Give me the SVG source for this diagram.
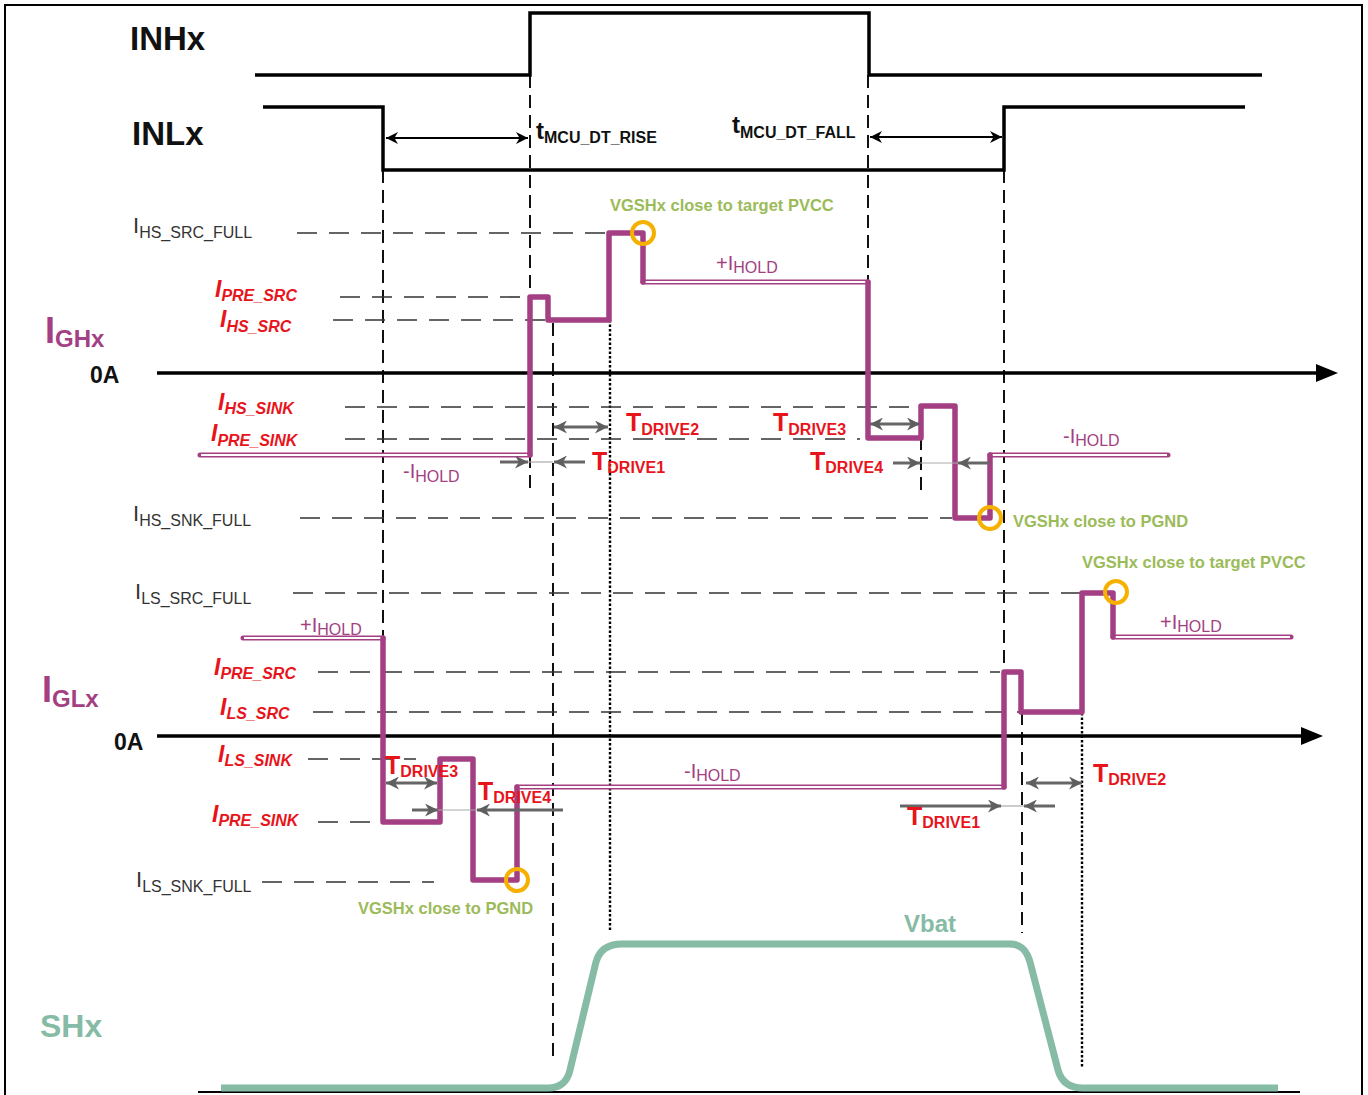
<svg xmlns="http://www.w3.org/2000/svg" width="1368" height="1095" viewBox="0 0 1368 1095">
<defs>
<style>
text{font-family:"Liberation Sans",Arial,sans-serif}
.big{font-size:33px;font-weight:bold;fill:#111}
.oa{font-size:23px;font-weight:bold;fill:#111}
.gl{font-size:22px;fill:#333}
.gls{font-size:16px}
.rl{font-size:23px;font-weight:bold;font-style:italic;fill:#e8141b}
.rls{font-size:16px}
.td{font-size:25px;font-weight:bold;fill:#e8141b}
.tds{font-size:16px}
.pl{font-size:20px;fill:#a33f82}
.pls{font-size:16px}
.gr{font-size:16.5px;font-weight:bold;fill:#9bbb59}
.tm{font-size:24px;font-weight:bold;fill:#111}
.tms{font-size:16px}
.sig{fill:none;stroke:#000;stroke-width:3.5}
.hd{fill:none;stroke:#333;stroke-width:1.6;stroke-dasharray:20 12}
.vd{fill:none;stroke:#111;stroke-width:2;stroke-dasharray:13 7}
.dot{fill:none;stroke:#000;stroke-width:2.4;stroke-dasharray:2.5 2}
.thick{fill:none;stroke:#a33f82;stroke-width:5.5;stroke-linejoin:round;stroke-linecap:round}
.hold{fill:none;stroke:#a33f82;stroke-width:5;stroke-linecap:round}
.holdin{fill:none;stroke:#fff;stroke-width:1.8}
.ring{fill:none;stroke:#f5b000;stroke-width:4}
.garr{fill:none;stroke:#666;stroke-width:3}
.thin{fill:none;stroke:#aaa;stroke-width:1.2}
.barr{fill:none;stroke:#000;stroke-width:2.2}
</style>
<marker id="ab" viewBox="0 0 10 10" refX="10" refY="5" markerWidth="14" markerHeight="12" markerUnits="userSpaceOnUse" orient="auto-start-reverse"><path d="M0,0 L10,5 L0,10 L3,5 z" fill="#000"/></marker>
<marker id="ag" viewBox="0 0 10 10" refX="10" refY="5" markerWidth="15" markerHeight="13" markerUnits="userSpaceOnUse" orient="auto-start-reverse"><path d="M0,0 L10,5 L0,10 L3,5 z" fill="#5f5f5f"/></marker>
</defs>

<rect id="frame" x="5" y="5" width="1357" height="1100" fill="#fff" stroke="#000" stroke-width="2"/>
<line x1="198" y1="1092" x2="1300" y2="1092" stroke="#000" stroke-width="2"/>

<g id="guides">
<path class="vd" d="M383,170 V640"/>
<path class="vd" d="M530,75 V492"/>
<path class="vd" d="M553,323 V1062"/>
<path class="dot" d="M610,320 V930"/>
<path class="vd" d="M868,75 V282"/>
<path class="vd" d="M921,437 V490"/>
<path class="vd" d="M1004,170 V670"/>
<path class="vd" d="M1022,692 V933"/>
<path class="dot" d="M1082,713 V1067"/>
<path class="hd" d="M297,233 H605"/>
<path class="hd" d="M340,297 H528"/>
<path class="hd" d="M333,320 H550"/>
<path class="hd" d="M345,407 H920"/>
<path class="hd" d="M345,439 H860"/>
<path class="hd" d="M300,518 H952"/>
<path class="hd" d="M293,593 H1080"/>
<path class="hd" d="M318,672 H1000"/>
<path class="hd" d="M313,712 H1022"/>
<path class="hd" d="M308,759 H416"/>
<path class="hd" d="M318,822 H371"/>
<path class="hd" d="M262,882 H434"/>
</g>

<g id="INHx">
<text class="big" x="130" y="50">INHx</text>
<path class="sig" d="M255,75 H530 V13 H869 V75 H1262"/>
</g>
<g id="INLx">
<text class="big" x="132" y="145">INLx</text>
<path class="sig" d="M263,107 H383 V170 H1004 V107 H1245"/>
</g>

<g id="tmcu">
<path class="barr" d="M386,138 H528" marker-start="url(#ab)" marker-end="url(#ab)"/>
<text class="tm" x="536" y="139">t<tspan class="tms" dy="4">MCU_DT_RISE</tspan></text>
<path class="barr" d="M870,137 H1002" marker-start="url(#ab)" marker-end="url(#ab)"/>
<text class="tm" x="732" y="133">t<tspan class="tms" dy="5">MCU_DT_FALL</tspan></text>
</g>

<g id="axes">
<path d="M157,373 H1318" stroke="#000" stroke-width="3.5"/>
<polygon points="1316,364 1338,373 1316,382" fill="#000"/>
<path d="M157,736 H1303" stroke="#000" stroke-width="3.5"/>
<polygon points="1301,727 1323,736 1301,745" fill="#000"/>
</g>

<g id="labels">
<text x="45" y="343" style="font-size:36px;font-weight:bold;fill:#a33f82">I<tspan dy="4" style="font-size:24px">GHx</tspan></text>
<text class="oa" x="90" y="383">0A</text>
<text x="42" y="702" style="font-size:36px;font-weight:bold;fill:#a33f82">I<tspan dy="5" style="font-size:24px">GLx</tspan></text>
<text class="oa" x="114" y="750">0A</text>
<text x="40" y="1037" style="font-size:32px;font-weight:bold;fill:#86bba5">SHx</text>

<text class="gl" x="133" y="233">I<tspan class="gls" dy="5">HS_SRC_FULL</tspan></text>
<text class="gl" x="133" y="521">I<tspan class="gls" dy="5">HS_SNK_FULL</tspan></text>
<text class="gl" x="135" y="599">I<tspan class="gls" dy="5">LS_SRC_FULL</tspan></text>
<text class="gl" x="136" y="887">I<tspan class="gls" dy="5">LS_SNK_FULL</tspan></text>

<text class="rl" x="215" y="297">I<tspan class="rls" dy="4">PRE_SRC</tspan></text>
<text class="rl" x="220" y="327">I<tspan class="rls" dy="5">HS_SRC</tspan></text>
<text class="rl" x="218" y="410">I<tspan class="rls" dy="4">HS_SINK</tspan></text>
<text class="rl" x="211" y="441">I<tspan class="rls" dy="5">PRE_SINK</tspan></text>
<text class="rl" x="214" y="675">I<tspan class="rls" dy="4">PRE_SRC</tspan></text>
<text class="rl" x="220" y="715">I<tspan class="rls" dy="4">LS_SRC</tspan></text>
<text class="rl" x="218" y="762">I<tspan class="rls" dy="4">LS_SINK</tspan></text>
<text class="rl" x="212" y="822">I<tspan class="rls" dy="4">PRE_SINK</tspan></text>
</g>

<g id="IGHx">
<path class="hold" d="M200,455 H530 M643,282 H868 M990,455 H1168"/>
<path class="holdin" d="M201,455 H528 M645,282 H866 M992,455 H1167"/>
<path class="thick" d="M530,455 V297 H548 V320 H609 V233 H643 V282"/>
<path class="thick" d="M868,282 V438 H921 V406 H955 V518 H990 V455"/>
<circle class="ring" cx="643" cy="233" r="11"/>
<circle class="ring" cx="990" cy="518" r="11"/>
<text class="gr" x="610" y="211">VGSHx close to target PVCC</text>
<text class="gr" x="1013" y="527">VGSHx close to PGND</text>
<text class="pl" x="716" y="270">+I<tspan class="pls" dy="3">HOLD</tspan></text>
<text class="pl" x="403" y="478">-I<tspan class="pls" dy="4">HOLD</tspan></text>
<text class="pl" x="1063" y="443">-I<tspan class="pls" dy="3">HOLD</tspan></text>
</g>

<g id="IGLx">
<path class="hold" d="M243,638 H383 M517,787 H1004 M1113,637 H1291"/>
<path class="holdin" d="M244,638 H381 M519,787 H1002 M1115,637 H1290"/>
<path class="thick" d="M383,638 V822 H440 V759 H473 V880 H517 V787"/>
<path class="thick" d="M1004,787 V672 H1021 V712 H1082 V593 H1113 V637"/>
<circle class="ring" cx="517" cy="880" r="11"/>
<circle class="ring" cx="1116" cy="592" r="11"/>
<text class="gr" x="1082" y="568">VGSHx close to target PVCC</text>
<text class="gr" x="358" y="914">VGSHx close to PGND</text>
<text class="pl" x="300" y="632">+I<tspan class="pls" dy="3">HOLD</tspan></text>
<text class="pl" x="1160" y="629">+I<tspan class="pls" dy="3">HOLD</tspan></text>
<text class="pl" x="684" y="778">-I<tspan class="pls" dy="3">HOLD</tspan></text>
</g>

<g id="connectors">
<path class="thin" d="M528,462 H553"/>
<path class="garr" d="M500,462 H528" marker-end="url(#ag)"/>
<path class="garr" d="M585,462 H554" marker-end="url(#ag)"/>
<path class="garr" d="M554,427 H608" marker-start="url(#ag)" marker-end="url(#ag)"/>
<path class="garr" d="M870,424 H920" marker-start="url(#ag)" marker-end="url(#ag)"/>
<path class="thin" d="M920,463 H958"/>
<path class="garr" d="M893,463 H920" marker-end="url(#ag)"/>
<path class="garr" d="M990,463 H958" marker-end="url(#ag)"/>
<path class="garr" d="M386,783 H437" marker-start="url(#ag)" marker-end="url(#ag)"/>
<path class="thin" d="M438,810 H477"/>
<path class="garr" d="M412,810 H438" marker-end="url(#ag)"/>
<path class="garr" d="M563,810 H477" marker-end="url(#ag)"/>
<path class="thin" d="M1001,806 H1024"/>
<path class="garr" d="M900,806 H1001" marker-end="url(#ag)"/>
<path class="garr" d="M1055,806 H1024" marker-end="url(#ag)"/>
<path class="garr" d="M1026,783 H1082" marker-start="url(#ag)" marker-end="url(#ag)"/>
</g>

<g id="tdrive">
<text class="td" x="626" y="431">T<tspan class="tds" dy="4">DRIVE2</tspan></text>
<text class="td" x="773" y="431">T<tspan class="tds" dy="4">DRIVE3</tspan></text>
<text class="td" x="592" y="470">T<tspan class="tds" dy="3">DRIVE1</tspan></text>
<text class="td" x="810" y="470">T<tspan class="tds" dy="3">DRIVE4</tspan></text>
<text class="td" x="385" y="774">T<tspan class="tds" dy="3">DRIVE3</tspan></text>
<text class="td" x="478" y="800">T<tspan class="tds" dy="3">DRIVE4</tspan></text>
<text class="td" x="907" y="825">T<tspan class="tds" dy="3">DRIVE1</tspan></text>
<text class="td" x="1093" y="782">T<tspan class="tds" dy="3">DRIVE2</tspan></text>
</g>

<g id="SHx">
<path d="M221,1088 L548,1088 Q566,1088 570,1070 L596,962 Q601,944 622,944 L1010,944 Q1025,944 1030,962 L1058,1070 Q1063,1088 1083,1088 L1278,1088" fill="none" stroke="#86bba5" stroke-width="7"/>
<text x="904" y="932" style="font-size:24px;font-weight:bold;fill:#86bba5">Vbat</text>
</g>
</svg>
